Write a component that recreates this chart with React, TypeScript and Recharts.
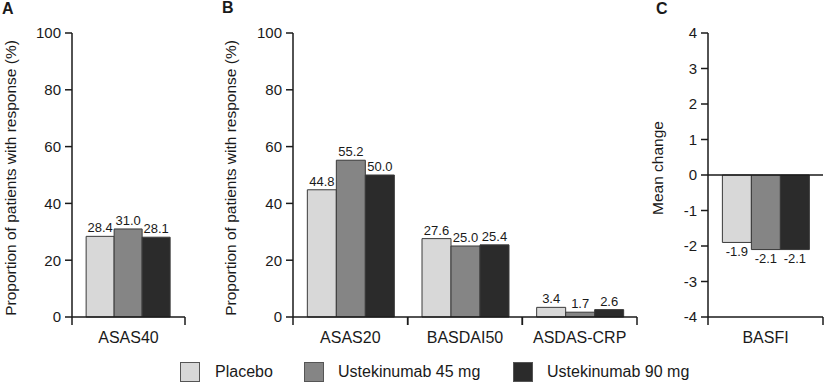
import { BarChart, Bar, XAxis, YAxis, LabelList, ReferenceLine } from 'recharts'

const SERIES = ['Placebo', 'Ustekinumab 45 mg', 'Ustekinumab 90 mg']
const KEYS = ['placebo', 'u45', 'u90']
const COLORS = ['#d8d8d8', '#858585', '#2b2b2b']

// Panel A: response rates (%)
const catsA = ['ASAS40']
const placeboA = [28.4]
const u45A = [31.0]
const u90A = [28.1]

// Panel B: response rates (%)
const catsB = ['ASAS20', 'BASDAI50', 'ASDAS-CRP']
const placeboB = [44.8, 27.6, 3.4]
const u45B = [55.2, 25.0, 1.7]
const u90B = [50.0, 25.4, 2.6]

// Panel C: mean change
const catsC = ['BASFI']
const placeboC = [-1.9]
const u45C = [-2.1]
const u90C = [-2.1]

const ticksPct = [0, 20, 40, 60, 80, 100]
const ticksChange = [-4, -3, -2, -1, 0, 1, 2, 3, 4]

const rows = (cats: string[], p: number[], a: number[], b: number[]) =>
  cats.map((c, i) => ({ cat: c, placebo: p[i], u45: a[i], u90: b[i] }))

const FONT = '"Liberation Sans", Arial, Helvetica, sans-serif'
const INK = '#1a1a1a'
const TOP = 33
const XH = 65
const H = 382
const PB = H - XH

function CatTick(props: any) {
  const { x, payload, band } = props
  return (
    <g>
      <line x1={x - band / 2} x2={x - band / 2} y1={PB} y2={PB + 8} stroke={INK} strokeWidth={1.5} />
      <line x1={x + band / 2} x2={x + band / 2} y1={PB} y2={PB + 8} stroke={INK} strokeWidth={1.5} />
      <text x={x} y={PB + 26} textAnchor="middle" fontSize={16} fill={INK} fontFamily={FONT}>
        {payload.value}
      </text>
    </g>
  )
}

function YTitle({ cx, cy, text }: { cx: number; cy: number; text: string }) {
  return (
    <text
      x={cx}
      y={cy}
      transform={`rotate(-90 ${cx} ${cy})`}
      textAnchor="middle"
      dominantBaseline="central"
      fontSize={15.5}
      fill={INK}
      fontFamily={FONT}
    >
      {text}
    </text>
  )
}

const fmt = (v: any) => Number(v).toFixed(1)

function Panel(props: {
  data: any[]
  width: number
  yWidth: number
  right: number
  band: number
  domain: [number, number]
  ticks: number[]
  title: string
  titleX: number
  titleY: number
  zeroLine?: boolean
}) {
  const { data, width, yWidth, right, band, domain, ticks, title, titleX, titleY, zeroLine } = props
  return (
    <BarChart
      width={width}
      height={H}
      data={data}
      margin={{ top: TOP, right, left: 0, bottom: 0 }}
      barCategoryGap="12.5%"
      barGap={0}
    >
      <XAxis
        dataKey="cat"
        height={XH}
        axisLine={{ stroke: INK, strokeWidth: 1.5 }}
        tickLine={false}
        interval={0}
        tick={(p: any) => <CatTick {...p} band={band} />}
      />
      <YAxis
        width={yWidth}
        domain={domain}
        ticks={ticks}
        interval={0}
        tickSize={7}
        tickMargin={4}
        axisLine={{ stroke: INK, strokeWidth: 1.5 }}
        tickLine={{ stroke: INK, strokeWidth: 1.5 }}
        tick={{ fontSize: 15, fill: INK, fontFamily: FONT }}
        label={<YTitle cx={titleX} cy={titleY} text={title} />}
      />
      {zeroLine && <ReferenceLine y={0} stroke={INK} strokeWidth={1.5} />}
      {KEYS.map((k, i) => (
        <Bar key={k} dataKey={k} name={SERIES[i]} fill={COLORS[i]} stroke="#3a3a3a" strokeWidth={1} isAnimationActive={false}>
          <LabelList dataKey={k} position="top" offset={4} formatter={fmt} fontSize={13} fill={INK} fontFamily={FONT} />
        </Bar>
      ))}
    </BarChart>
  )
}

const letter = (x: number, y: number): React.CSSProperties => ({
  position: 'absolute',
  left: x,
  top: y,
  fontFamily: FONT,
  fontWeight: 'bold',
  fontSize: 16,
  lineHeight: '16px',
  color: INK,
})

export default function App() {
  const legendX = [
    [180, 215],
    [304, 338],
    [513, 547],
  ]
  return (
    <div style={{ position: 'absolute', left: 0, top: 0, width: 824, height: 382, background: '#fff', overflow: 'hidden' }}>
      <div style={{ position: 'absolute', left: 0, top: 0 }}>
        <Panel
          data={rows(catsA, placeboA, u45A, u90A)}
          width={190}
          yWidth={72}
          right={5}
          band={113}
          domain={[0, 100]}
          ticks={ticksPct}
          title="Proportion of patients with response (%)"
          titleX={10}
          titleY={178}
        />
      </div>
      <div style={{ position: 'absolute', left: 220, top: 0 }}>
        <Panel
          data={rows(catsB, placeboB, u45B, u90B)}
          width={420}
          yWidth={73}
          right={3}
          band={344 / 3}
          domain={[0, 100]}
          ticks={ticksPct}
          title="Proportion of patients with response (%)"
          titleX={10}
          titleY={178}
        />
      </div>
      <div style={{ position: 'absolute', left: 640, top: 0 }}>
        <Panel
          data={rows(catsC, placeboC, u45C, u90C)}
          width={184}
          yWidth={68}
          right={1}
          band={115}
          domain={[-4, 4]}
          ticks={ticksChange}
          title="Mean change"
          titleX={17}
          titleY={168}
          zeroLine
        />
      </div>
      <div style={letter(2, 1)}>A</div>
      <div style={letter(222, 0)}>B</div>
      <div style={letter(656, 1)}>C</div>
      {SERIES.map((s, i) => (
        <div key={s}>
          <div
            style={{
              position: 'absolute',
              left: legendX[i][0],
              top: 362,
              width: 20,
              height: 20,
              boxSizing: 'border-box',
              background: COLORS[i],
              border: '1px solid #555',
            }}
          />
          <div
            style={{
              position: 'absolute',
              left: legendX[i][1],
              top: 362,
              height: 20,
              lineHeight: '20px',
              fontFamily: FONT,
              fontSize: 16,
              color: INK,
              whiteSpace: 'nowrap',
            }}
          >
            {s}
          </div>
        </div>
      ))}
    </div>
  )
}
